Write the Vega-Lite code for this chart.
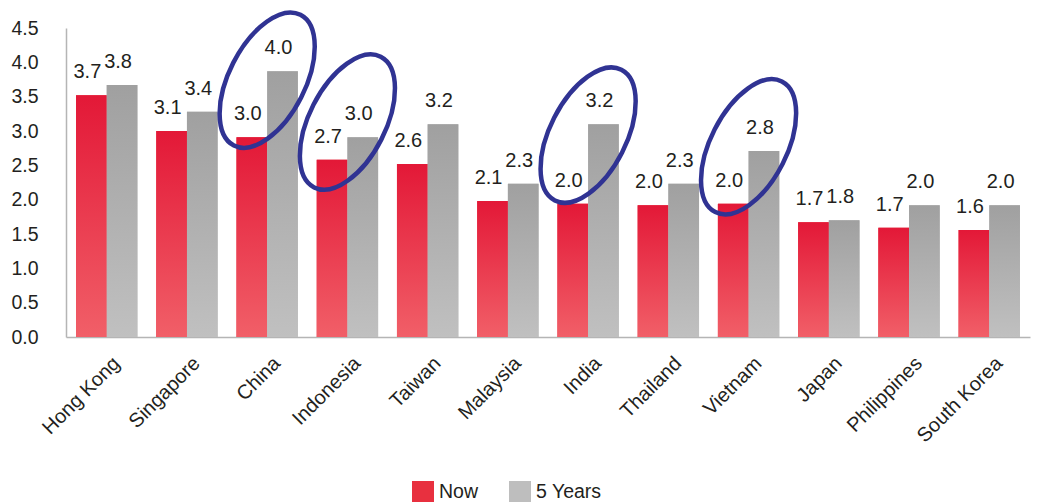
{
  "$schema": "https://vega.github.io/schema/vega-lite/v6.json",
  "width": 964,
  "height": 309,
  "autosize": "none",
  "padding": {"left": 66, "top": 28, "right": 19, "bottom": 165},
  "background": "white",
  "config": {
    "view": {"stroke": null},
    "font": "Liberation Sans",
    "axis": {"labelFont": "Liberation Sans", "labelFontSize": 19.5, "labelColor": "#231F20", "domainColor": "#B5B5B5", "domainWidth": 1.5, "ticks": false, "grid": false, "title": null},
    "legend": {"labelFont": "Liberation Sans", "labelFontSize": 19.5, "labelColor": "#231F20", "padding": 0}
  },
  "datasets": {
    "bars": [
      {"country": "Hong Kong", "series": "Now", "value": 3.52, "label": "3.7"},
      {"country": "Hong Kong", "series": "5 Years", "value": 3.67, "label": "3.8"},
      {"country": "Singapore", "series": "Now", "value": 3.0, "label": "3.1"},
      {"country": "Singapore", "series": "5 Years", "value": 3.28, "label": "3.4"},
      {"country": "China", "series": "Now", "value": 2.91, "label": "3.0"},
      {"country": "China", "series": "5 Years", "value": 3.87, "label": "4.0"},
      {"country": "Indonesia", "series": "Now", "value": 2.58, "label": "2.7"},
      {"country": "Indonesia", "series": "5 Years", "value": 2.91, "label": "3.0"},
      {"country": "Taiwan", "series": "Now", "value": 2.52, "label": "2.6"},
      {"country": "Taiwan", "series": "5 Years", "value": 3.1, "label": "3.2"},
      {"country": "Malaysia", "series": "Now", "value": 1.98, "label": "2.1"},
      {"country": "Malaysia", "series": "5 Years", "value": 2.23, "label": "2.3"},
      {"country": "India", "series": "Now", "value": 1.94, "label": "2.0"},
      {"country": "India", "series": "5 Years", "value": 3.1, "label": "3.2"},
      {"country": "Thailand", "series": "Now", "value": 1.92, "label": "2.0"},
      {"country": "Thailand", "series": "5 Years", "value": 2.23, "label": "2.3"},
      {"country": "Vietnam", "series": "Now", "value": 1.94, "label": "2.0"},
      {"country": "Vietnam", "series": "5 Years", "value": 2.71, "label": "2.8"},
      {"country": "Japan", "series": "Now", "value": 1.67, "label": "1.7"},
      {"country": "Japan", "series": "5 Years", "value": 1.7, "label": "1.8"},
      {"country": "Philippines", "series": "Now", "value": 1.59, "label": "1.7"},
      {"country": "Philippines", "series": "5 Years", "value": 1.92, "label": "2.0"},
      {"country": "South Korea", "series": "Now", "value": 1.56, "label": "1.6"},
      {"country": "South Korea", "series": "5 Years", "value": 1.92, "label": "2.0"}
    ],
    "circles": [
      {"country": "China", "value": 3.74},
      {"country": "Indonesia", "value": 3.13},
      {"country": "India", "value": 2.94},
      {"country": "Vietnam", "value": 2.77}
    ]
  },
  "encoding": {
    "x": {
      "field": "country",
      "type": "nominal",
      "sort": ["Hong Kong", "Singapore", "China", "Indonesia", "Taiwan", "Malaysia", "India", "Thailand", "Vietnam", "Japan", "Philippines", "South Korea"],
      "scale": {"paddingInner": 0.235, "paddingOuter": 0.125},
      "axis": {"labelAngle": -45, "labelAlign": "right", "labelBaseline": "middle", "labelPadding": 23, "labelOffset": 10, "labelFontSize": 20},
      "title": null
    },
    "y": {
      "field": "value",
      "type": "quantitative",
      "scale": {"domain": [0, 4.5], "nice": false},
      "axis": {"values": [0, 0.5, 1, 1.5, 2, 2.5, 3, 3.5, 4, 4.5], "format": ".1f", "labelPadding": 28, "labelBaseline": "middle"},
      "title": null
    }
  },
  "layer": [
    {
      "data": {"name": "bars"},
      "mark": {"type": "bar", "strokeWidth": 0},
      "encoding": {
        "xOffset": {"field": "series", "type": "nominal", "sort": ["Now", "5 Years"], "scale": {"paddingInner": 0, "paddingOuter": 0}},
        "color": {
          "field": "series",
          "type": "nominal",
          "sort": ["Now", "5 Years"],
          "scale": {"domain": ["Now", "5 Years"], "range": ["#E8303F", "#BEBEBE"]},
          "legend": {"orient": "none", "legendX": 346, "legendY": 453, "direction": "horizontal", "columns": 2, "title": null, "symbolType": "square", "symbolSize": 484, "symbolStrokeWidth": 0, "columnPadding": 30, "labelOffset": 5}
        }
      }
    },
    {
      "data": {"name": "bars"},
      "mark": {"type": "bar", "strokeWidth": 0},
      "encoding": {
        "xOffset": {"field": "series", "type": "nominal", "sort": ["Now", "5 Years"]},
        "color": {
          "condition": {
            "test": "datum.series === 'Now'",
            "value": {"gradient": "linear", "x1": 0, "y1": 0, "x2": 0, "y2": 1, "stops": [{"offset": 0, "color": "#E31837"}, {"offset": 1, "color": "#F15F68"}]}
          },
          "value": {"gradient": "linear", "x1": 0, "y1": 0, "x2": 0, "y2": 1, "stops": [{"offset": 0, "color": "#A0A0A0"}, {"offset": 1, "color": "#C0C0C0"}]}
        }
      }
    },
    {
      "data": {"name": "bars"},
      "mark": {"type": "text", "baseline": "middle", "align": "center", "dy": -23, "dx": -4, "fontSize": 20, "color": "#231F20"},
      "encoding": {
        "xOffset": {"field": "series", "type": "nominal", "sort": ["Now", "5 Years"]},
        "text": {"field": "label", "type": "nominal"}
      }
    },
    {
      "data": {"name": "circles"},
      "mark": {
        "type": "point",
        "filled": false,
        "shape": "M0.454,-0.891 C0.7099,-0.7606 0.714,-0.256 0.4633,0.2361 C0.2126,0.7282 -0.1981,1.0214 -0.454,0.891 C-0.7099,0.7606 -0.714,0.256 -0.4633,-0.2361 C-0.2126,-0.7282 0.1981,-1.0214 0.454,-0.891 Z",
        "size": 21500,
        "stroke": "#303393",
        "strokeWidth": 4.5,
        "opacity": 1,
        "fill": null
      }
    }
  ]
}
